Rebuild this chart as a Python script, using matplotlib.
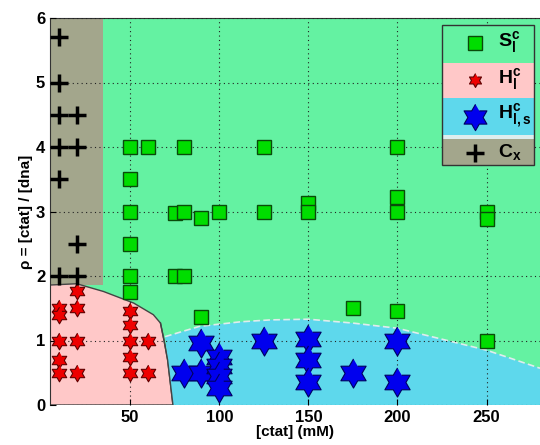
import matplotlib
matplotlib.use("Agg")
import numpy as np
from matplotlib import pyplot as plt
from matplotlib.patches import Polygon, Rectangle

plt.rcParams['font.family'] = ['Liberation Sans', 'DejaVu Sans']
plt.rcParams['font.weight'] = 'bold'
plt.rcParams['mathtext.fontset'] = 'custom'
plt.rcParams['mathtext.rm'] = 'Liberation Sans'
plt.rcParams['mathtext.bf'] = 'Liberation Sans:bold'

# phase boundaries
pink_x = [5, 20, 35, 52, 63, 67, 69, 71, 74]
pink_y = [1.86, 1.88, 1.76, 1.58, 1.40, 1.27, 1.0, 0.70, 0]
blue_x = [69.6, 89, 112, 129, 150, 175, 200, 250, 280]
blue_y = [1.06, 1.22, 1.29, 1.32, 1.33, 1.27, 1.19, 0.85, 0.57]
grey_x = [5, 35]
grey_y = [1.86, 6]

# S_l^c (squares)
sq_x = [50, 60, 80, 125, 200, 50, 50, 75, 80, 90, 100, 125, 150, 150, 200, 200, 250, 250,
        50, 50, 50, 75, 80, 90, 175, 200, 250]
sq_y = [4, 4, 4, 4, 4, 3.5, 3, 2.97, 3, 2.9, 3, 3, 3.13, 3, 3.23, 3, 3, 2.88,
        2.5, 2, 1.75, 2, 2, 1.37, 1.5, 1.46, 1]

# H_l^c (red stars)
rs_x = [10, 10, 10, 10, 10, 20, 20, 20, 20, 50, 50, 50, 50, 50, 60, 60]
rs_y = [1.5, 1.4, 1.0, 0.7, 0.5, 1.76, 1.5, 1.0, 0.5, 1.45, 1.24, 1.0, 0.75, 0.5, 1.0, 0.5]

# H_l,s^c (blue stars)
bs_x = [80, 90, 90, 100, 100, 100, 100, 125, 150, 150, 150, 175, 200, 200]
bs_y = [0.5, 0.96, 0.5, 0.75, 0.6, 0.45, 0.26, 1.0, 1.03, 0.7, 0.36, 0.5, 1.0, 0.36]

# C_x (plus)
cx_x = [10, 10, 10, 20, 10, 20, 10, 20, 10, 20]
cx_y = [5.7, 5, 4.5, 4.5, 4, 4, 3.5, 2.5, 2, 2]

c_green = '#64F2A2'
c_pink = '#FFC8C8'
c_blue = '#5ED8EC'
c_grey = '#A3A68C'

# hexagram marker (star of david outline)
ang = np.pi / 2 + np.arange(12) * np.pi / 6
rad = np.where(np.arange(12) % 2 == 0, 1.0, 1 / np.sqrt(3))
star = list(zip(rad * np.cos(ang), rad * np.sin(ang)))

fig = plt.figure(figsize=(5.4, 4.45), dpi=100)
ax = fig.add_axes([50/540, 1-405/445, 490/540, 387/445])
ax.set_facecolor(c_green)

ax.add_patch(Rectangle((grey_x[0], grey_y[0]), grey_x[1]-grey_x[0], grey_y[1]-grey_y[0],
                       facecolor=c_grey, edgecolor='none', zorder=1))
ax.add_patch(Polygon(list(zip([5] + pink_x, [0] + pink_y)), closed=True,
                     facecolor=c_pink, edgecolor='#444444', lw=1, zorder=1))
bx = [280] + blue_x[::-1] + [71, 74]
by = [0] + blue_y[::-1] + [0.70, 0]
ax.add_patch(Polygon(list(zip(bx, by)), closed=True, facecolor=c_blue, edgecolor='none', zorder=1))
ax.plot(blue_x, blue_y, color='#E0ECEC', lw=1.2, ls=(0, (4, 2)), zorder=1.5)
ax.plot(pink_x[5:], pink_y[5:], color='#444444', lw=1, zorder=1.5)

ax.plot(sq_x, sq_y, 's', ms=10, mfc='#00DD00', mec='#0A4A0A', mew=1, ls='none', zorder=3)
ax.plot(rs_x, rs_y, marker=star, ms=12, mfc='#EE0000', mec='#600000', mew=0.8, ls='none', zorder=3)
ax.plot(bs_x, bs_y, marker=star, ms=21, mfc='#0000EE', mec='#000060', mew=0.8, ls='none', zorder=3)
ax.plot(cx_x, cx_y, '+', ms=13, mec='black', mew=2.5, ls='none', zorder=3)

ax.set_xlim(5, 280)
ax.set_ylim(0, 6)
ax.set_xticks([50, 100, 150, 200, 250])
ax.set_yticks([0, 1, 2, 3, 4, 5, 6])
ax.set_axisbelow(False)
ax.grid(True, color='#222222', ls=(0, (1, 3)), lw=0.8)
ax.tick_params(direction='in', labelsize=12, length=4)
for lab in ax.get_xticklabels() + ax.get_yticklabels():
    lab.set_fontweight('bold')
for s in ['right', 'bottom']:
    ax.spines[s].set_visible(False)
ax.spines['left'].set_color('#333333')
ax.spines['top'].set_color('#333333')
ax.set_xlabel('[ctat] (mM)', fontsize=11, fontweight='bold', labelpad=0)
ax.set_ylabel('\u03c1 = [ctat] / [dna]', fontsize=11, fontweight='bold', labelpad=2)

# legend drawn by hand
tr = ax.transAxes
x0, x1 = 0.80, 0.988
rows = [(0.884, 0.982, c_green), (0.793, 0.884, c_pink), (0.698, 0.793, c_blue), (0.620, 0.687, c_grey)]
ax.add_patch(Rectangle((x0, 0.687), x1-x0, 0.698-0.687, transform=tr, facecolor='#DDEEEE',
                       edgecolor='none', zorder=4))
for y0, y1, c in rows:
    ax.add_patch(Rectangle((x0, y0), x1-x0, y1-y0, transform=tr, facecolor=c,
                           edgecolor='none', zorder=4))
ax.add_patch(Rectangle((x0, 0.620), x1-x0, 0.982-0.620, transform=tr, facecolor='none',
                       edgecolor='#333333', lw=1, zorder=5))
mx, tx = 0.867, 0.915
ax.plot([mx], [0.935], 's', ms=10, mfc='#00DD00', mec='#0A4A0A', transform=tr, zorder=6)
ax.plot([mx], [0.84], marker=star, ms=10, mfc='#EE0000', mec='#600000', mew=0.8, transform=tr, zorder=6)
ax.plot([mx], [0.745], marker=star, ms=19, mfc='#0000EE', mec='#000060', mew=0.8, transform=tr, zorder=6)
ax.plot([mx], [0.652], '+', ms=13, mec='black', mew=2.5, transform=tr, zorder=6)
ax.text(tx, 0.935, r'$\mathbf{S}^\mathbf{c}_\mathbf{l}$', transform=tr, fontsize=14, va='center', zorder=6)
ax.text(tx, 0.84, r'$\mathbf{H}^\mathbf{c}_\mathbf{l}$', transform=tr, fontsize=14, va='center', zorder=6)
ax.text(tx, 0.745, r'$\mathbf{H}^\mathbf{c}_\mathbf{l,s}$', transform=tr, fontsize=14, va='center', zorder=6)
ax.text(tx, 0.652, r'$\mathbf{C}_\mathbf{x}$', transform=tr, fontsize=14, va='center', zorder=6)

fig.savefig('out.png', dpi=100)
